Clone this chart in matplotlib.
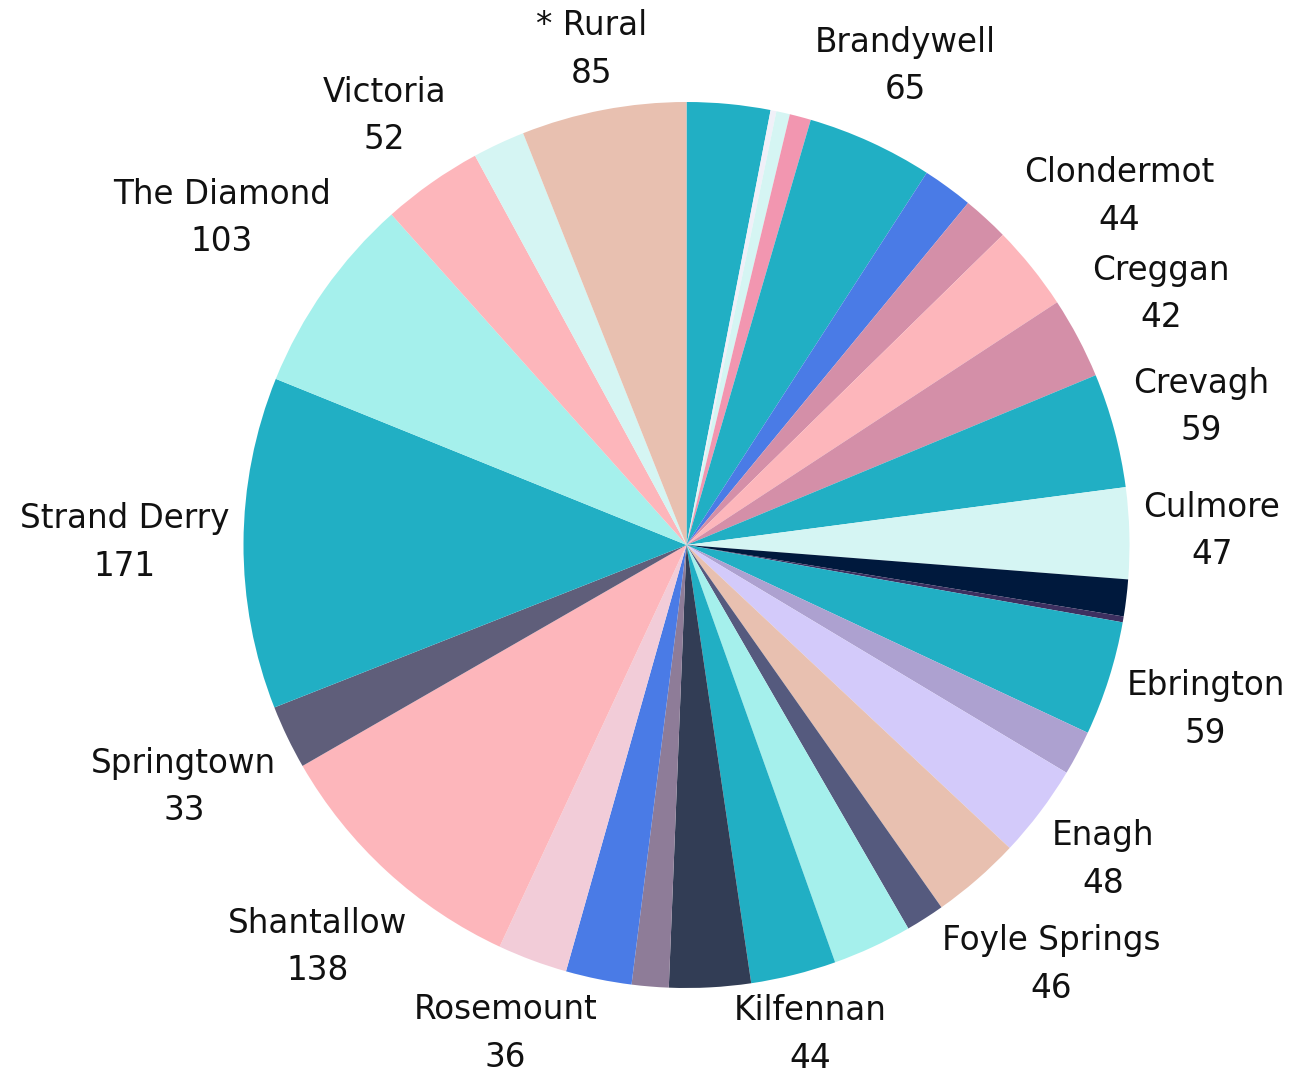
import numpy as np
import matplotlib
matplotlib.use("Agg")
import matplotlib.pyplot as plt

# ---- data (clockwise from 12 o'clock) ----
labels = ["Ballymagroarty", "", "", "", "Brandywell", "", "", "Clondermot", "Creggan",
          "Crevagh", "Culmore", "", "", "Ebrington", "", "Enagh", "Foyle Springs", "",
          "", "Kilfennan", "", "", "", "Rosemount", "Shantallow", "Springtown",
          "Strand Derry", "The Diamond", "Victoria", "", "* Rural"]
show_label = [False, False, False, False, True, False, False, True, True,
              True, True, False, False, True, False, True, True, False,
              False, True, False, False, False, True, True, True,
              True, True, True, False, True]
values = [43, 3, 7, 11, 65, 26, 24, 44, 42, 59, 47, 19, 3, 59, 23, 48, 46, 20,
          41, 44, 42, 19, 34, 36, 138, 33, 171, 103, 52, 27, 85]
colors = ["#21AFC4", "#F0F0F8", "#D5F5F3", "#F296B0", "#21AFC4", "#4A7BE6", "#D48FA8",
          "#FDB6BB", "#D48FA8", "#21AFC4", "#D5F5F3", "#00193D", "#3D3060", "#21AFC4",
          "#ADA1D0", "#D3CAFA", "#E8C0B0", "#555A7E", "#A5F0EC", "#21AFC4", "#323D55",
          "#8E7C98", "#4A7BE6", "#F2CCD8", "#FDB6BB", "#5F5E7A", "#21AFC4", "#A5F0EC",
          "#FDB6BB", "#D5F5F3", "#E8C0B0"]

W, H = 1306, 1077
fig = plt.figure(figsize=(W / 100, H / 100), dpi=100)
ax = fig.add_axes([0, 0, 1, 1])
cx, cy, R = 686.5, H - 545, 443

wedges, _ = ax.pie(values, colors=colors, startangle=90, counterclock=False,
                   center=(cx, cy), radius=R, wedgeprops=dict(linewidth=0))
ax.set_xlim(0, W)
ax.set_ylim(0, H)
ax.set_aspect("equal")
ax.axis("off")

fig.canvas.draw()
renderer = fig.canvas.get_renderer()
gap = 14
for w, lab, show, val in zip(wedges, labels, show_label, values):
    if not show:
        continue
    mid = np.deg2rad((w.theta1 + w.theta2) / 2)
    ux, uy = np.cos(mid), np.sin(mid)
    t = ax.text(cx + ux * R, cy + uy * R, f"{lab}\n{val}", ha="center", va="center",
                fontsize=23.5, family="DejaVu Sans", color="#111111", linespacing=1.56)
    bb = t.get_window_extent(renderer)
    hw, hh = bb.width / 2, bb.height / 2
    lo, hi = R, R * 2
    for _ in range(60):
        m = (lo + hi) / 2
        px, py = ux * m, uy * m
        dx = max(abs(px) - hw, 0)
        dy = max(abs(py) - hh, 0)
        if np.hypot(dx, dy) < R + gap:
            lo = m
        else:
            hi = m
    x, y = cx + ux * hi, cy + uy * hi
    # keep the label inside the canvas
    y = min(max(y, hh + 2), H - hh - 2)
    x = min(max(x, hw + 2), W - hw - 2)
    t.set_position((x, y))

fig.savefig("out.png", dpi=100)
